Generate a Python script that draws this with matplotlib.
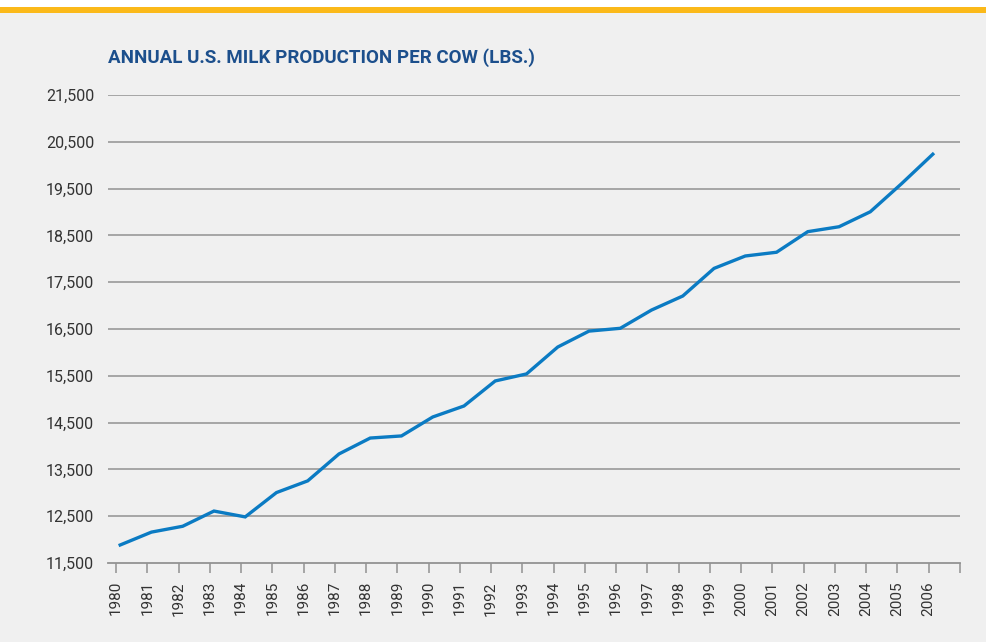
import matplotlib.pyplot as plt
from matplotlib.patches import Rectangle

# Annual milk production per cow (lbs)
years = list(range(1980, 2007))
milk = [11885, 12160, 12285, 12610, 12485, 13005, 13255, 13830, 14170, 14215,
        14620, 14855, 15390, 15540, 16115, 16455, 16515, 16905, 17205, 17795,
        18060, 18140, 18580, 18685, 19005, 19605, 20235]
yticks = list(range(11500, 21501, 1000))
title = 'ANNUAL U.S. MILK PRODUCTION PER COW (LBS.)'

bg = '#f0f0f0'
plt.rcParams['font.family'] = ['Roboto', 'DejaVu Sans']

fig = plt.figure(figsize=(9.86, 6.42), dpi=100, facecolor=bg)

# white strip and yellow band along the top
fig.patches.append(Rectangle((0, 1 - 7 / 642), 1, 7 / 642, transform=fig.transFigure,
                             facecolor='white', edgecolor='none', zorder=0))
fig.patches.append(Rectangle((0, 1 - 13 / 642), 1, 6 / 642, transform=fig.transFigure,
                             facecolor='#fbb919', edgecolor='none', zorder=0))

ax = fig.add_axes([108 / 986, 79 / 642, 852 / 986, 468 / 642])
ax.set_facecolor(bg)

ax.plot(years, milk, color='#0b7bc3', linewidth=2.4, solid_joinstyle='miter', zorder=3)

ax.set_ylim(11500, 21500)
ax.set_xlim(1979.61, 2006.87)
ax.set_yticks(yticks)
ax.set_yticklabels([f'{v:,}' for v in yticks])
# the ticks sit a little left of each data point in the original
ax.set_xticks([y - 0.13 for y in years] + [2006.87])
ax.set_xticklabels([str(y) for y in years] + [''], rotation=90)

for v in yticks[1:]:
    ax.axhline(v, color='#929292', linewidth=1.1, zorder=1)

for s in ['top', 'right', 'left']:
    ax.spines[s].set_visible(False)
ax.spines['bottom'].set_color('#929292')
ax.spines['bottom'].set_linewidth(1.3)

ax.tick_params(axis='y', length=0, pad=10, labelsize=11.5, labelcolor='#333333')
ax.tick_params(axis='x', length=7, width=1.1, color='#929292', pad=6,
               labelsize=11, labelcolor='#333333')

fig.text(108 / 986, 1 - 58 / 642, title, color='#1c4f8c', fontsize=13.5,
         fontweight='semibold', ha='left', va='center')

fig.savefig('out.png', dpi=100, facecolor=bg)
